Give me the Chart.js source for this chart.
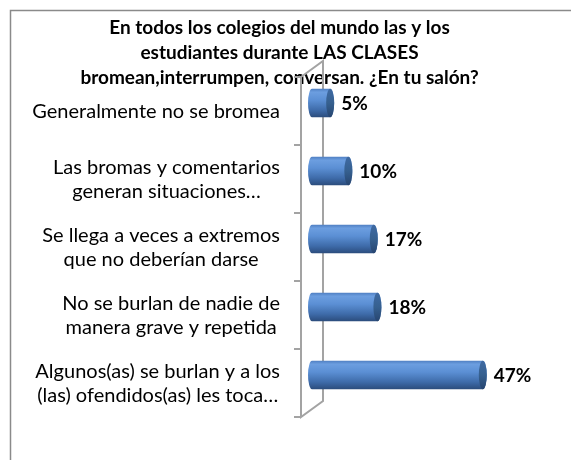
<!DOCTYPE html>
<html>
<head>
<meta charset="utf-8">
<script src="https://cdn.jsdelivr.net/npm/chart.js@4.4.0/dist/chart.umd.min.js"></script>
<style>
  html, body { margin: 0; padding: 0; background: #fff; }
  #wrap { width: 571px; height: 460px; }
</style>
</head>
<body>
<div id="wrap"><canvas id="chart"></canvas></div>
<script>
const titleLines = [
  'En todos los colegios del mundo las y los',
  'estudiantes durante LAS CLASES',
  'bromean,interrumpen, conversan. ¿En tu salón?'
];
const categories = [
  ['Generalmente no se bromea'],
  ['Las bromas y comentarios', 'generan situaciones…'],
  ['Se llega a veces a extremos', 'que no deberían darse'],
  ['No se burlan de nadie de', 'manera grave y repetida'],
  ['Algunos(as) se burlan y a los', '(las) ofendidos(as) les toca…']
];
const percents = [5, 10, 17, 18, 47];

// 3d depth of the floor/wall
const depthX = 22, depthY = -16;

function drawCylinder(ctx, x0, x1, yc, h) {
  const rx = 4, ry = h / 2, top = yc - ry;
  const g = ctx.createLinearGradient(0, top, 0, top + h);
  g.addColorStop(0, '#4f7fc2');
  g.addColorStop(0.12, '#6c9ee0');
  g.addColorStop(0.4, '#5b8fd4');
  g.addColorStop(0.75, '#3e6ba9');
  g.addColorStop(1, '#2b4c7c');
  ctx.beginPath();
  ctx.ellipse(x1, yc, rx, ry, 0, -Math.PI / 2, Math.PI / 2);
  ctx.ellipse(x0, yc, rx, ry, 0, Math.PI / 2, Math.PI * 1.5);
  ctx.closePath();
  ctx.fillStyle = g;
  ctx.fill();
  const gc = ctx.createLinearGradient(0, top, 0, top + h);
  gc.addColorStop(0, '#3f6aa3');
  gc.addColorStop(0.5, '#36608f');
  gc.addColorStop(1, '#274570');
  ctx.beginPath();
  ctx.ellipse(x1, yc, rx, ry, 0, 0, Math.PI * 2);
  ctx.fillStyle = gc;
  ctx.fill();
}

const cylinders = {
  id: 'cylinders',
  beforeDraw(chart) {
    const ctx = chart.ctx;
    ctx.save();
    ctx.strokeStyle = '#8a8a8a';
    ctx.lineWidth = 1.5;
    ctx.beginPath();
    ctx.moveTo(10.5, chart.height);
    ctx.lineTo(10.5, 10.5);
    ctx.lineTo(chart.width, 10.5);
    ctx.stroke();
    ctx.restore();
  },
  beforeDatasetsDraw(chart) {
    const ctx = chart.ctx, a = chart.chartArea, ys = chart.scales.y;
    ctx.save();
    ctx.strokeStyle = '#a3a3a3';
    ctx.lineWidth = 2;
    ctx.beginPath();
    ctx.moveTo(a.left, a.top);
    ctx.lineTo(a.left, a.bottom);
    ctx.lineTo(a.left + depthX, a.bottom + depthY);
    ctx.lineTo(a.left + depthX, a.top + depthY);
    ctx.lineTo(a.left, a.top);
    // category boundary ticks
    const n = categories.length;
    for (let i = 0; i <= n; i++) {
      let y;
      if (i === 0) y = a.top;
      else if (i === n) y = a.bottom;
      else y = (ys.getPixelForValue(i - 1) + ys.getPixelForValue(i)) / 2;
      ctx.moveTo(a.left - 7, y);
      ctx.lineTo(a.left, y);
    }
    ctx.stroke();
    ctx.restore();
  },
  afterDatasetsDraw(chart) {
    const ctx = chart.ctx, a = chart.chartArea, ys = chart.scales.y;
    const meta = chart.getDatasetMeta(0);
    ctx.save();
    meta.data.forEach((el, i) => {
      const p = el.getProps(['x', 'base', 'y', 'height'], true);
      const x0 = p.base + depthX / 2, x1 = p.x + depthX / 2, yc = p.y + depthY / 2;
      drawCylinder(ctx, x0, x1, yc, p.height);
      ctx.fillStyle = '#000';
      ctx.font = 'bold 19px Lato';
      ctx.textAlign = 'left';
      ctx.textBaseline = 'middle';
      ctx.fillText(percents[i] + '%', x1 + 11, yc + 1);
    });
    // category labels: block right aligned, lines centred
    ctx.font = '20px Lato';
    ctx.fillStyle = '#000';
    ctx.textAlign = 'center';
    ctx.textBaseline = 'middle';
    const right = a.left - 21, lh = 24;
    categories.forEach((lines, i) => {
      const w = Math.max(...lines.map(l => ctx.measureText(l).width));
      const cx = right - w / 2;
      const cy = ys.getPixelForValue(i);
      lines.forEach((l, j) => {
        ctx.fillText(l, cx, cy + (j - (lines.length - 1) / 2) * lh + 1);
      });
    });
    ctx.restore();
  }
};

new Chart(document.getElementById('chart'), {
  type: 'bar',
  data: {
    labels: categories,
    datasets: [{
      data: percents,
      backgroundColor: 'rgba(0,0,0,0)',
      barPercentage: 0.42,
      categoryPercentage: 1
    }]
  },
  options: {
    indexAxis: 'y',
    responsive: true,
    maintainAspectRatio: false,
    animation: false,
    devicePixelRatio: 1,
    layout: { padding: { left: 0, right: 12, top: 0, bottom: 43 } },
    plugins: {
      legend: { display: false },
      tooltip: { enabled: false },
      title: {
        display: true,
        text: titleLines,
        color: '#000',
        font: { family: 'Lato', size: 19, weight: 'bold', lineHeight: '25px' },
        padding: { top: 15.5, bottom: -13.5 }
      }
    },
    scales: {
      x: { display: false, min: 0, max: 71 },
      y: {
        display: true,
        grid: { display: false },
        border: { display: false },
        ticks: { display: false },
        afterFit(scale) { scale.width = 301; }
      }
    }
  },
  plugins: [cylinders]
});
</script>
</body>
</html>
